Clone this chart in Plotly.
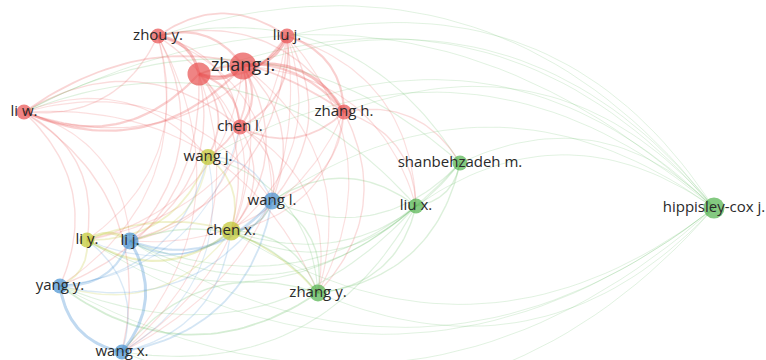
import numpy as np
import plotly.graph_objects as go

# ---- data ----
labels = ["zhou y.", "liu j.", "zhang j.", "", "li w.", "zhang h.", "chen l.",
          "wang j.", "shanbehzadeh m.", "wang l.", "liu x.", "hippisley-cox j.",
          "chen x.", "li y.", "li j.", "wang x.", "zhang y.", "yang y."]
node_key = ["zhou y.", "liu j.", "zhang j.", "u", "li w.", "zhang h.", "chen l.",
            "wang j.", "shanbehzadeh m.", "wang l.", "liu x.", "hippisley-cox j.",
            "chen x.", "li y.", "li j.", "wang x.", "zhang y.", "yang y."]
node_x = [158, 287, 243, 199, 24, 344, 240, 208, 460, 272, 416, 714, 231, 87, 130, 122, 318, 60]
node_y = [36, 36, 66, 74, 112, 112, 127, 157, 163, 201, 206, 208, 231, 240, 241, 352, 293, 286]
node_cluster = ["red", "red", "red", "red", "red", "red", "red",
                "yellow", "green", "blue", "green", "green",
                "yellow", "yellow", "blue", "blue", "green", "blue"]
node_size = [15, 15, 27, 23, 15, 15, 15, 16, 15, 17, 15, 21, 19, 15, 17, 15, 17, 15]
label_size = [15, 15, 18, 15, 15, 15, 15, 15, 15, 15, 15, 15, 15, 15, 15, 15, 15, 15]

edges = [
    # red cluster
    ("zhang j.", "u", 4), ("zhang j.", "zhou y.", 2), ("zhang j.", "liu j.", 3),
    ("zhang j.", "zhang h.", 3), ("zhang j.", "chen l.", 2), ("zhang j.", "li w.", 2),
    ("u", "zhou y.", 3), ("u", "liu j.", 2), ("u", "li w.", 2), ("u", "zhang h.", 2),
    ("u", "chen l.", 2), ("zhou y.", "liu j.", 1.5), ("zhou y.", "li w.", 1),
    ("liu j.", "zhang h.", 2), ("li w.", "zhang h.", 1.5), ("chen l.", "zhang h.", 1.5),
    ("li w.", "chen l.", 1), ("zhou y.", "zhang h.", 1), ("liu j.", "chen l.", 1.5),
    ("li w.", "liu j.", 1), ("zhou y.", "chen l.", 1),
    ("zhang j.", "wang j.", 1.5), ("u", "wang j.", 1.5), ("u", "li j.", 1),
    ("zhang j.", "wang l.", 1), ("li w.", "li y.", 1), ("li w.", "yang y.", 1),
    ("li w.", "wang x.", 1), ("zhou y.", "li j.", 1), ("zhou y.", "chen x.", 1),
    ("liu j.", "li j.", 1), ("zhang h.", "liu x.", 1), ("zhang h.", "zhang y.", 1),
    ("zhang h.", "shanbehzadeh m.", 1), ("chen l.", "chen x.", 1), ("chen l.", "wang l.", 1),
    ("zhang j.", "chen x.", 1), ("liu j.", "wang l.", 1), ("u", "yang y.", 1),
    ("zhang j.", "wang x.", 0.7), ("zhou y.", "wang x.", 0.7), ("liu j.", "zhang y.", 0.7),
    ("zhang h.", "wang l.", 1), ("li w.", "li j.", 0.7), ("zhou y.", "yang y.", 0.7),
    ("zhou y.", "li y.", 0.7), ("liu j.", "li y.", 0.7), ("liu j.", "chen x.", 0.7),
    ("liu j.", "liu x.", 0.7), ("zhang j.", "li y.", 0.7), ("zhang j.", "zhang y.", 0.7),
    ("zhang j.", "liu x.", 0.7), ("u", "wang x.", 0.7), ("u", "chen x.", 0.7),
    ("chen l.", "li j.", 0.7), ("chen l.", "zhang y.", 0.7), ("zhang h.", "chen x.", 0.7),
    ("zhang h.", "li j.", 0.7), ("li w.", "wang l.", 0.7), ("li w.", "zhang y.", 0.7),
    ("li w.", "wang j.", 0.7), ("zhou y.", "wang l.", 0.7), ("liu j.", "wang x.", 0.7),
    # hippisley-cox j.
    ("hippisley-cox j.", "zhou y.", 0.5), ("hippisley-cox j.", "liu j.", 0.5),
    ("hippisley-cox j.", "zhang j.", 0.5), ("hippisley-cox j.", "u", 0.5),
    ("hippisley-cox j.", "li w.", 0.5), ("hippisley-cox j.", "zhang h.", 0.5),
    ("hippisley-cox j.", "chen l.", 0.5), ("hippisley-cox j.", "wang j.", 0.5),
    ("hippisley-cox j.", "shanbehzadeh m.", 0.5), ("hippisley-cox j.", "wang l.", 0.5),
    ("hippisley-cox j.", "liu x.", 0.5), ("hippisley-cox j.", "chen x.", 0.5),
    ("hippisley-cox j.", "li y.", 0.5), ("hippisley-cox j.", "li j.", 0.5),
    ("hippisley-cox j.", "yang y.", 0.5), ("hippisley-cox j.", "zhang y.", 0.5),
    ("hippisley-cox j.", "wang x.", 0.5),
    # green cluster
    ("shanbehzadeh m.", "liu x.", 1), ("shanbehzadeh m.", "zhang y.", 1),
    ("liu x.", "zhang y.", 1), ("zhang y.", "yang y.", 1.5), ("zhang y.", "li j.", 1),
    ("zhang y.", "chen x.", 1), ("zhang y.", "wang x.", 1), ("liu x.", "wang l.", 1),
    ("liu x.", "li j.", 0.7), ("shanbehzadeh m.", "wang l.", 0.7),
    ("shanbehzadeh m.", "li w.", 0.7), ("liu x.", "li w.", 0.7),
    ("liu x.", "chen x.", 0.7), ("shanbehzadeh m.", "li j.", 0.7),
    ("zhang y.", "wang l.", 1), ("liu x.", "yang y.", 0.7),
    ("shanbehzadeh m.", "zhou y.", 0.7), ("shanbehzadeh m.", "chen x.", 0.7),
    ("liu x.", "wang x.", 0.7), ("liu x.", "li y.", 0.7), ("zhang y.", "wang j.", 0.7),
    # blue cluster
    ("li j.", "wang x.", 3), ("yang y.", "wang x.", 3), ("li j.", "yang y.", 2),
    ("wang l.", "li j.", 2), ("wang l.", "wang x.", 1.5), ("wang l.", "yang y.", 1),
    ("li j.", "chen x.", 1.5), ("wang l.", "chen x.", 1.5), ("wang x.", "chen x.", 1),
    ("wang x.", "li y.", 1), ("wang l.", "wang j.", 1), ("yang y.", "wang j.", 1),
    ("wang l.", "li y.", 0.7), ("yang y.", "chen l.", 0.7), ("wang x.", "wang j.", 0.7),
    # yellow cluster
    ("li y.", "li j.", 2.5), ("li y.", "chen x.", 2), ("wang j.", "chen x.", 1.5),
    ("wang j.", "li y.", 1.5), ("wang j.", "li j.", 1), ("li y.", "yang y.", 1.5),
    ("chen x.", "yang y.", 1), ("li y.", "zhang y.", 1.5), ("chen x.", "wang l.", 1),
]

# ---- styling ----
cluster_rgb = {"red": (232, 80, 80), "green": (80, 178, 75),
               "blue": (70, 145, 210), "yellow": (192, 198, 45)}
CURV = 0.35

idx = {k: i for i, k in enumerate(node_key)}

groups = {}
for a, b, w in edges:
    ia, ib = idx[a], idx[b]
    i, j = (ia, ib) if ia < ib else (ib, ia)
    x0, y0, x1, y1 = node_x[i], node_y[i], node_x[j], node_y[j]
    mx, my = (x0 + x1) / 2, (y0 + y1) / 2
    dx, dy = x1 - x0, y1 - y0
    cx, cy = mx + CURV * dy, my - CURV * dx
    t = np.linspace(0, 1, 40)
    bx = (1 - t) ** 2 * x0 + 2 * (1 - t) * t * cx + t ** 2 * x1
    by = (1 - t) ** 2 * y0 + 2 * (1 - t) * t * cy + t ** 2 * y1
    r, g, bb = cluster_rgb[node_cluster[ia]]
    alpha = min(0.13 + 0.07 * w, 0.4)
    col = f"rgba({r},{g},{bb},{alpha:.2f})"
    width = 0.6 + 0.8 * w
    key = (col, round(width, 2))
    gx, gy = groups.setdefault(key, ([], []))
    gx.extend(list(bx) + [None])
    gy.extend(list(by) + [None])

fig = go.Figure()
for (col, width), (gx, gy) in sorted(groups.items(), key=lambda kv: kv[0][1]):
    fig.add_trace(go.Scatter(x=gx, y=gy, mode="lines",
                             line=dict(color=col, width=width),
                             hoverinfo="skip", showlegend=False))

node_colors = ["rgb(%d,%d,%d)" % cluster_rgb[c] for c in node_cluster]
fig.add_trace(go.Scatter(x=node_x, y=node_y, mode="markers",
                         marker=dict(size=node_size, color=node_colors,
                                     line=dict(width=0)),
                         hoverinfo="skip", showlegend=False))
fig.add_trace(go.Scatter(x=node_x, y=node_y, mode="text", text=labels,
                         textposition="middle center",
                         textfont=dict(family="Open Sans", size=label_size,
                                       color="#2a2a2a"),
                         hoverinfo="skip", showlegend=False))

fig.update_layout(width=766, height=360, margin=dict(l=0, r=0, t=0, b=0),
                  paper_bgcolor="white", plot_bgcolor="white",
                  xaxis=dict(range=[0, 766], visible=False),
                  yaxis=dict(range=[360, 0], visible=False))
fig.write_html("out.html")
